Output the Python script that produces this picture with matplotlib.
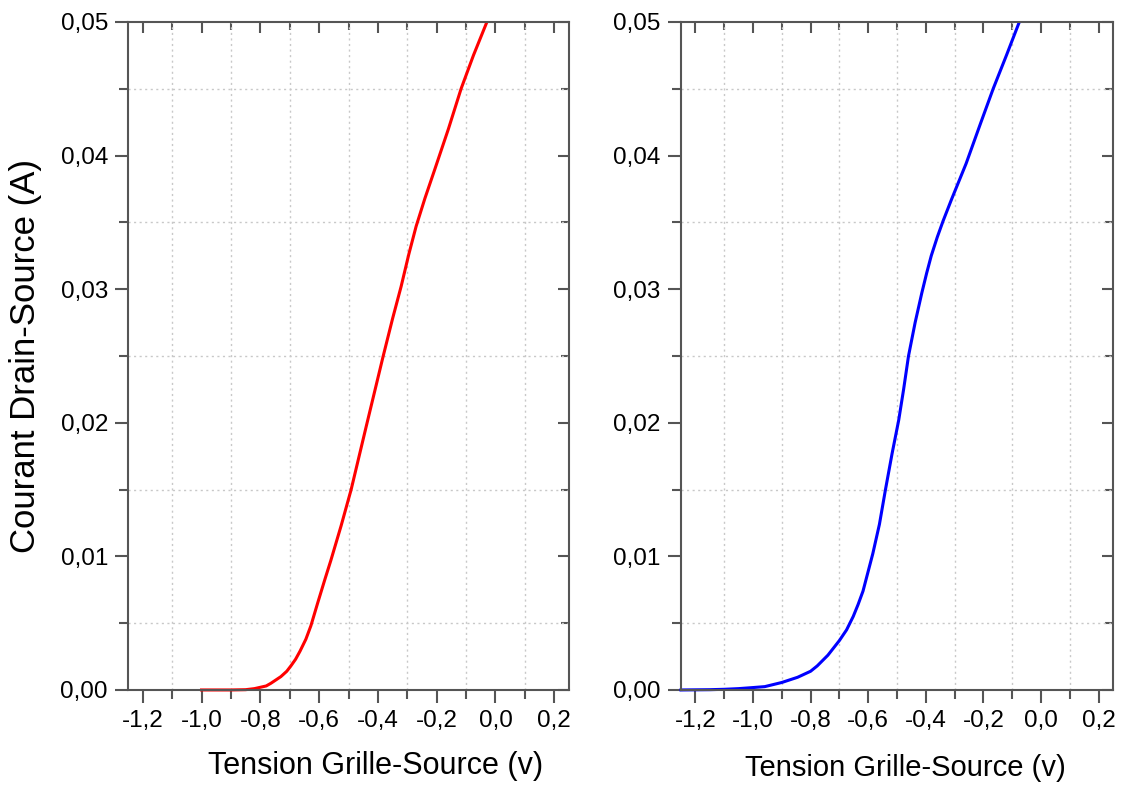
import matplotlib
matplotlib.use('Agg')
import matplotlib.pyplot as plt
from matplotlib.ticker import MultipleLocator, FuncFormatter

plt.rcParams['font.family'] = ['Liberation Sans', 'DejaVu Sans']

# courbe rouge (gauche)
vgs_red = [-1.00, -0.90, -0.85, -0.82, -0.80, -0.78, -0.764, -0.73, -0.71, -0.696,
           -0.68, -0.665, -0.645, -0.628, -0.605, -0.58, -0.56, -0.525, -0.491, -0.44,
           -0.383, -0.35, -0.321, -0.295, -0.27, -0.24, -0.2075, -0.16, -0.117, -0.075,
           -0.031]
ids_red = [0.0, 0.0, 0.00002, 0.0001, 0.0002, 0.0003, 0.0005, 0.0010, 0.0014, 0.0018,
           0.0023, 0.0029, 0.0038, 0.0048, 0.0065, 0.0083, 0.0097, 0.0123, 0.0150, 0.0197,
           0.0249, 0.0278, 0.0302, 0.0326, 0.0347, 0.0368, 0.0389, 0.0420, 0.0450, 0.0475,
           0.0499]

# courbe bleue (droite)
vgs_blue = [-1.25, -1.15, -1.10, -1.05, -1.00, -0.959, -0.90, -0.845, -0.80, -0.777,
            -0.74, -0.70, -0.675, -0.652, -0.635, -0.618, -0.584, -0.561, -0.540, -0.517,
            -0.494, -0.477, -0.460, -0.437, -0.414, -0.397, -0.381, -0.36, -0.34, -0.311,
            -0.26, -0.21, -0.166, -0.12, -0.077]
ids_blue = [0.0, 0.00002, 0.00005, 0.0001, 0.00018, 0.00025, 0.00056, 0.00095, 0.0014, 0.0018,
            0.0026, 0.0037, 0.0045, 0.0055, 0.0064, 0.0074, 0.0102, 0.0124, 0.0150, 0.0177,
            0.0202, 0.0225, 0.0250, 0.0275, 0.0297, 0.0312, 0.0325, 0.0339, 0.0351, 0.0367,
            0.0394, 0.0424, 0.0450, 0.0475, 0.0499]

xlabel = "Tension Grille-Source (v)"
ylabel = "Courant Drain-Source (A)"

spine_col = '#555555'


def comma_fmt(decimals):
    def f(v, pos):
        s = f"{v:.{decimals}f}"
        if s.startswith('-') and float(s) == 0:
            s = s[1:]
        return s.replace('.', ',')
    return FuncFormatter(f)


def style_axes(ax):
    ax.set_xlim(-1.25, 0.25)
    ax.set_ylim(0, 0.05)
    ax.xaxis.set_major_locator(MultipleLocator(0.2))
    ax.xaxis.set_minor_locator(MultipleLocator(0.1))
    ax.yaxis.set_major_locator(MultipleLocator(0.01))
    ax.yaxis.set_minor_locator(MultipleLocator(0.005))
    ax.xaxis.set_major_formatter(comma_fmt(1))
    ax.yaxis.set_major_formatter(comma_fmt(2))
    ax.grid(False)
    ax.grid(True, which='minor', linestyle=(0, (1.5, 2.5)), color='#c8c8c8', linewidth=1.0)
    ax.set_axisbelow(True)
    for sp in ax.spines.values():
        sp.set_color(spine_col)
        sp.set_linewidth(1.5)
    ax.tick_params(which='both', direction='out', colors=spine_col, width=1.5,
                   labelsize=17.5, labelcolor='black')
    ax.tick_params(which='major', length=9.5, pad=5)
    ax.tick_params(which='minor', length=6.5)
    # ticks interieurs en haut et a droite
    top = ax.secondary_xaxis('top')
    top.xaxis.set_major_locator(MultipleLocator(0.2))
    top.xaxis.set_minor_locator(MultipleLocator(0.1))
    top.tick_params(which='both', direction='in', colors=spine_col, width=1.5, labeltop=False)
    top.tick_params(which='major', length=8)
    top.tick_params(which='minor', length=6)
    top.spines['top'].set_visible(False)
    right = ax.secondary_yaxis('right')
    right.yaxis.set_major_locator(MultipleLocator(0.01))
    right.yaxis.set_minor_locator(MultipleLocator(0.005))
    right.tick_params(which='both', direction='in', colors=spine_col, width=1.5, labelright=False)
    right.tick_params(which='major', length=8)
    right.tick_params(which='minor', length=6)
    right.spines['right'].set_visible(False)


fig = plt.figure(figsize=(11.35, 7.87), dpi=100)
ax1 = fig.add_axes([0.1128, 0.1233, 0.3885, 0.8488])
ax2 = fig.add_axes([0.6, 0.1233, 0.3806, 0.8488])

ax1.plot(vgs_red, ids_red, color='#ff0000', linewidth=2.2, clip_on=False)
ax2.plot(vgs_blue, ids_blue, color='#0000ff', linewidth=2.2, clip_on=False)

style_axes(ax1)
style_axes(ax2)

ax1.set_xlabel(xlabel, fontsize=22)
ax1.xaxis.set_label_coords(0.562, -0.091)
ax2.set_xlabel(xlabel, fontsize=21)
ax2.xaxis.set_label_coords(0.519, -0.096)
ax1.set_ylabel(ylabel, fontsize=25)
ax1.yaxis.set_label_coords(-0.195, 0.5)

fig.savefig('out.png', dpi=100)
